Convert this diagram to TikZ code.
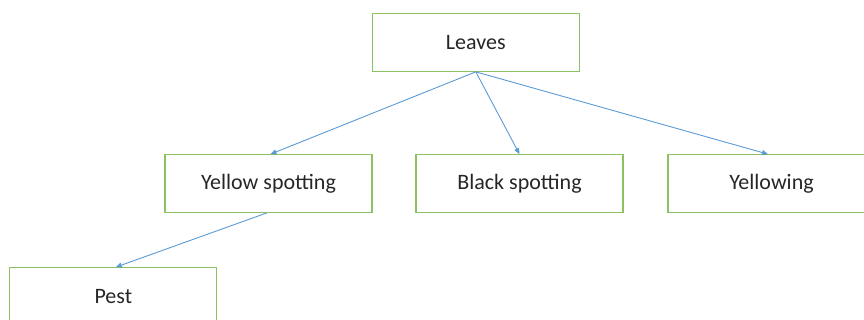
\documentclass[tikz,border=0pt]{standalone}
\usepackage{fontspec}
\setmainfont{Carlito}
\usetikzlibrary{arrows.meta}
\definecolor{boxgreen}{RGB}{141,194,99}
\definecolor{arrowblue}{RGB}{91,155,213}
\definecolor{textgray}{RGB}{38,38,38}
\tikzset{
  box/.style={draw=boxgreen, line width=1.2pt, minimum width=207pt, minimum height=57.5pt, inner sep=0pt, font=\fontsize{22}{26}\selectfont, text=textgray},
  link/.style={draw=arrowblue, line width=0.9pt, -{Triangle[length=6pt,width=5pt]}}
}
\begin{document}
\begin{tikzpicture}[x=1pt,y=-1pt]
\clip (0,0) rectangle (864,320);
\useasboundingbox (0,0) rectangle (864,320);
\node[box] (leaves) at (475.8,42.5) {Leaves};
\node[box] (ys) at (268.5,183.5) {Yellow spotting};
\node[box] (bs) at (519.5,183.5) {Black spotting};
\node[box] (yw) at (771.5,183.5) {Yellowing};
\node[box] (pest) at (113.3,296.5) {Pest};
\draw[link] (leaves.south) -- ([xshift=2pt]ys.north);
\draw[link] (leaves.south) -- (bs.north);
\draw[link] (leaves.south) -- ([xshift=-3.5pt]yw.north);
\draw[link] ([xshift=-1.5pt]ys.south) -- ([xshift=2.5pt]pest.north);
\end{tikzpicture}
\end{document}
